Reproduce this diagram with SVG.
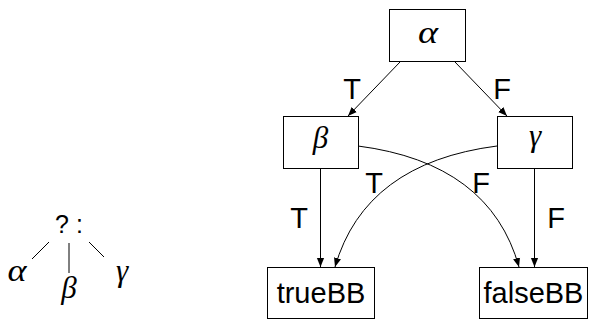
<svg xmlns="http://www.w3.org/2000/svg" width="589" height="320" viewBox="0 0 589 320">
<style>
.box{fill:#fff;stroke:#000;stroke-width:1}
.edge{fill:none;stroke:#000;stroke-width:1}
.lbl{font-family:"Liberation Sans",Arial,sans-serif;font-size:29px;fill:#000;text-anchor:middle}
.gr{font-family:"Liberation Serif","Times New Roman",serif;font-style:italic;font-size:31px;fill:#000;text-anchor:middle}
.tl{font-family:"Liberation Sans",Arial,sans-serif;font-size:25px;fill:#000;text-anchor:middle}
.tg{font-family:"Liberation Serif","Times New Roman",serif;font-style:italic;font-size:31px;fill:#000;text-anchor:middle}
</style>
<defs>
<marker id="ah" viewBox="0 0 10 10" refX="10" refY="5" markerWidth="9" markerHeight="9" markerUnits="userSpaceOnUse" orient="auto">
<path d="M0,1 L10,5 L0,9 Z" fill="#000"/>
</marker>
</defs>
<g id="tree">
<text class="tl" x="69" y="233">? :</text>
<line class="edge" x1="49" y1="242" x2="32" y2="259"/>
<line class="edge" x1="69" y1="243" x2="69" y2="273"/>
<line class="edge" x1="89" y1="242" x2="104" y2="257"/>
<text class="tg" x="17" y="281" textLength="19" lengthAdjust="spacingAndGlyphs">α</text>
<text class="tg" x="69" y="298">β</text>
<text class="tg" x="122" y="281">γ</text>
</g>
<g id="connectors">
<line class="edge" x1="400" y1="62" x2="348" y2="116" marker-end="url(#ah)"/>
<line class="edge" x1="455" y1="62" x2="507" y2="116" marker-end="url(#ah)"/>
<line class="edge" x1="320.5" y1="169" x2="320.5" y2="267" marker-end="url(#ah)"/>
<line class="edge" x1="534.5" y1="169" x2="534.5" y2="267" marker-end="url(#ah)"/>
<path class="edge" d="M358,146 Q490,163 519,267" marker-end="url(#ah)"/>
<path class="edge" d="M497,146 Q365,163 335,267" marker-end="url(#ah)"/>
<text class="lbl" x="352" y="99">T</text>
<text class="lbl" x="502" y="99">F</text>
<text class="lbl" x="299" y="228">T</text>
<text class="lbl" x="556" y="228">F</text>
<text class="lbl" x="374" y="193">T</text>
<text class="lbl" x="481" y="193">F</text>
</g>
<g id="alpha">
<rect class="box" x="389.5" y="9.5" width="76" height="52"/>
<text class="gr" x="428" y="43" textLength="20" lengthAdjust="spacingAndGlyphs">α</text>
</g>
<g id="beta">
<rect class="box" x="283.5" y="116.5" width="75" height="52"/>
<text class="gr" x="320.5" y="148">β</text>
</g>
<g id="gamma">
<rect class="box" x="497.5" y="116.5" width="75" height="52"/>
<text class="gr" x="535" y="146">γ</text>
</g>
<g id="trueBB">
<rect class="box" x="267.5" y="267.5" width="107" height="51"/>
<text class="lbl" x="321" y="303">trueBB</text>
</g>
<g id="falseBB">
<rect class="box" x="479.5" y="267.5" width="108" height="51"/>
<text class="lbl" x="533.5" y="303">falseBB</text>
</g>
</svg>
